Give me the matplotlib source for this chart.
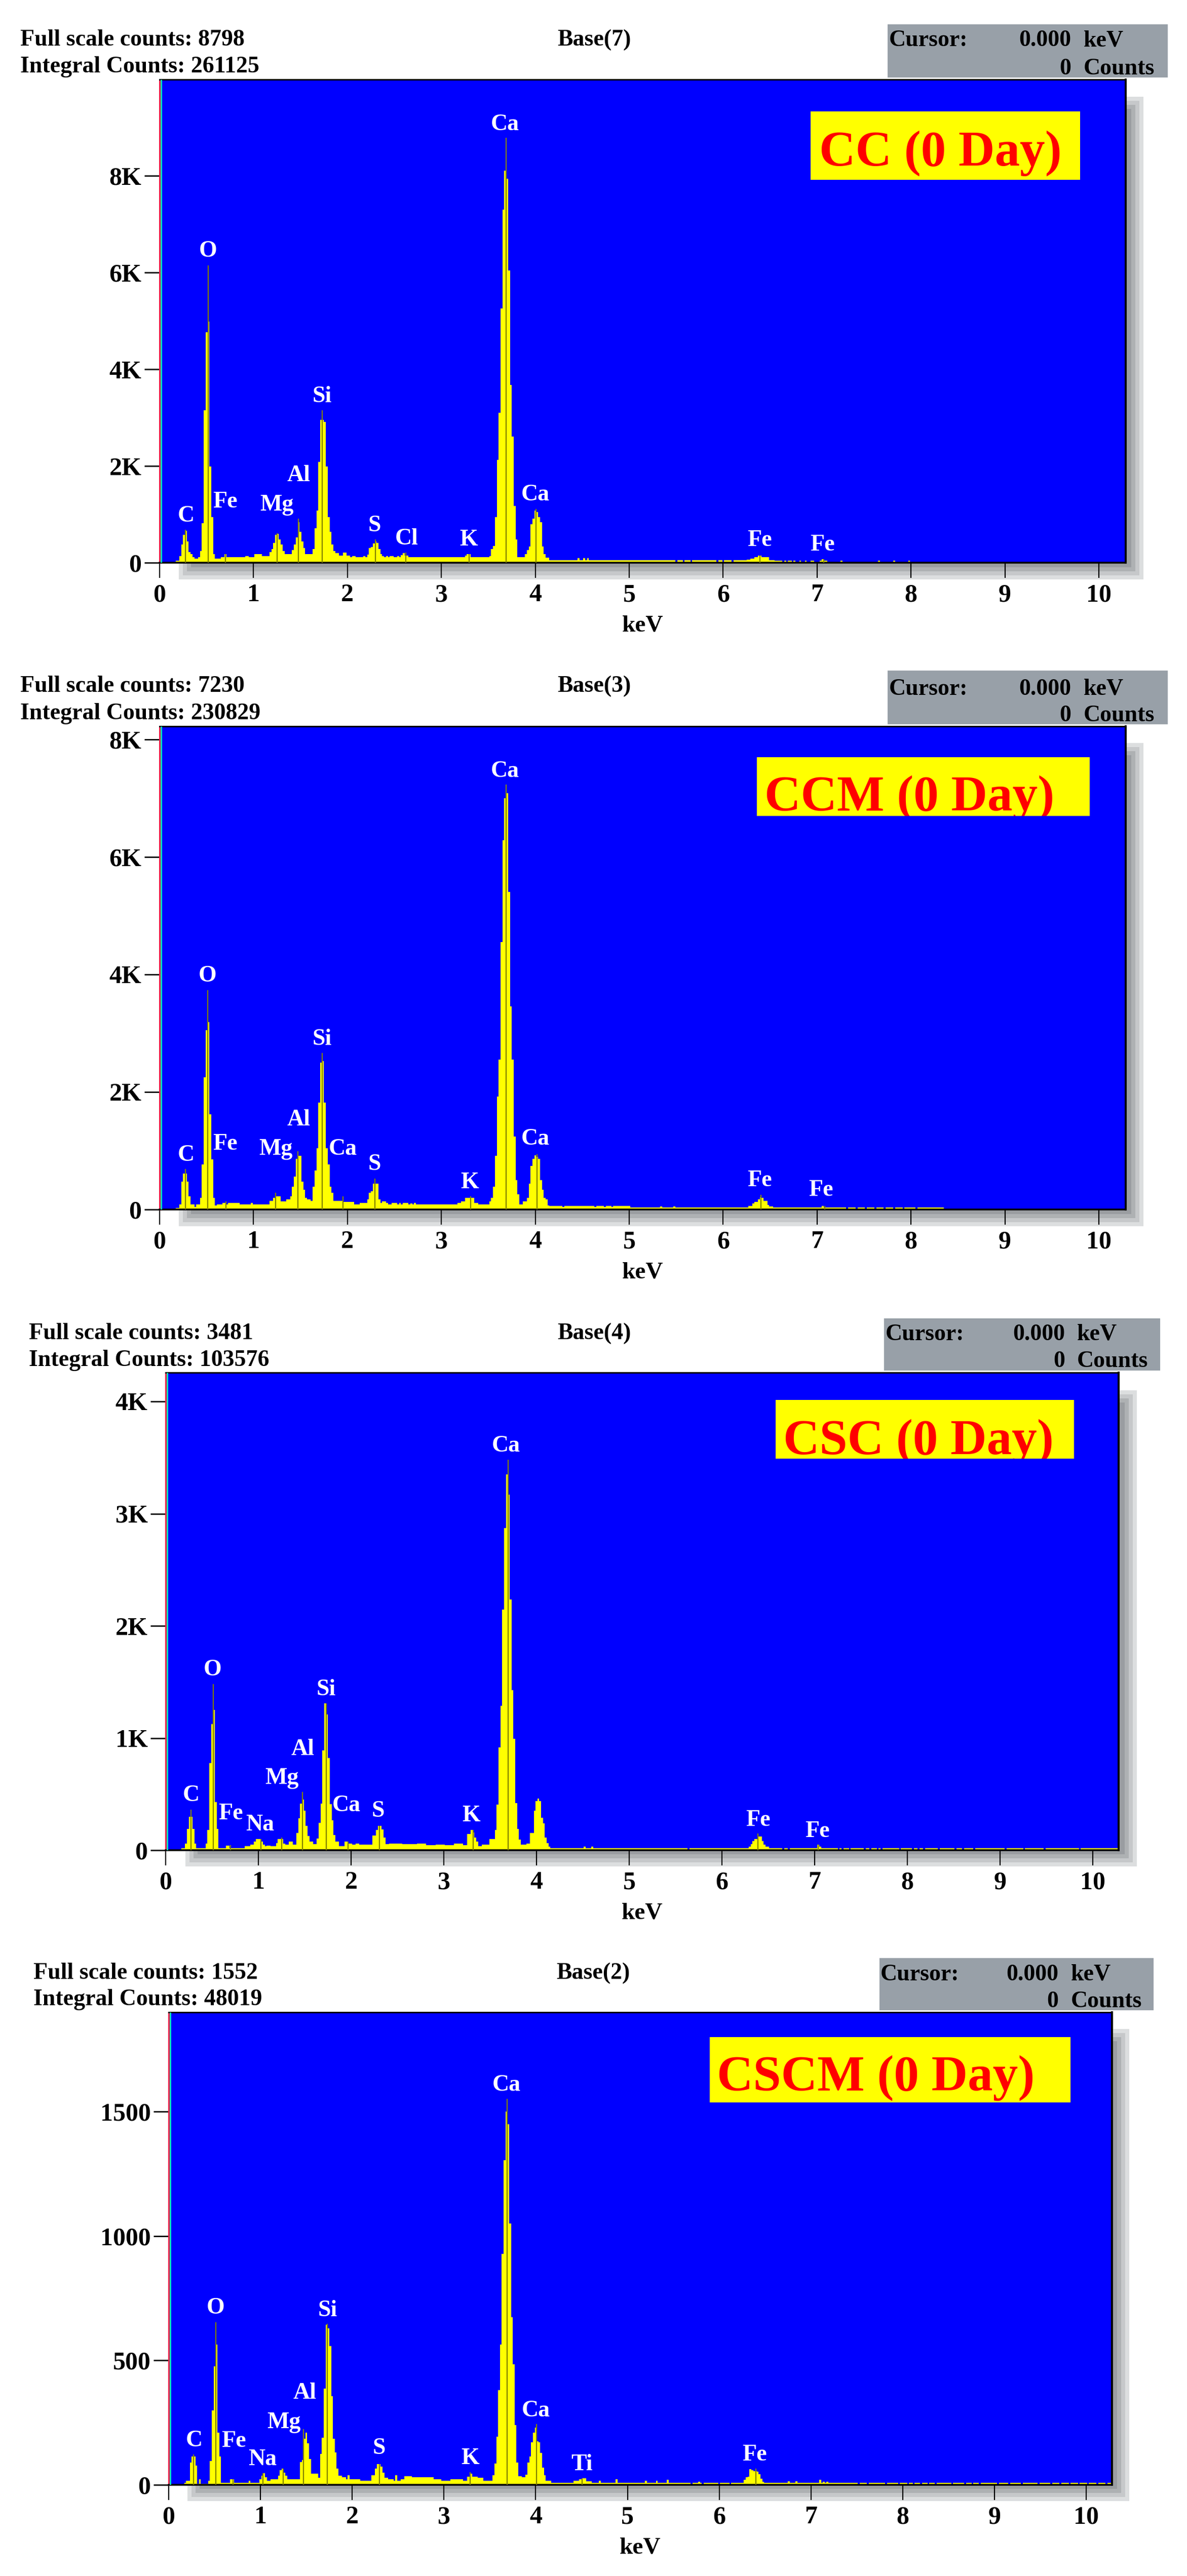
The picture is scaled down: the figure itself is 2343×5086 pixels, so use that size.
#!/usr/bin/env python3
"""EDS spectra, four stacked panels: CC, CCM, CSC, CSCM at 0 day."""

import matplotlib
matplotlib.use("Agg")
import matplotlib.pyplot as plt
from matplotlib.patches import Rectangle

W, H = 2343, 5086
DPI = 100

# spectrum values: left edge of a channel run (keV) and its height (counts)
cc_kev = [
    0.17, 0.21, 0.23, 0.25, 0.27, 0.29, 0.31, 0.33, 0.35, 0.37, 0.41, 0.43, 0.45, 0.47, 0.49, 0.51, 0.53, 0.55, 0.57, 0.59,
    0.65, 0.69, 0.71, 0.91, 0.95, 1.01, 1.09, 1.17, 1.19, 1.21, 1.23, 1.25, 1.27, 1.29, 1.31, 1.33, 1.41, 1.43, 1.45, 1.47,
    1.49, 1.51, 1.53, 1.55, 1.57, 1.63, 1.65, 1.67, 1.69, 1.71, 1.73, 1.75, 1.77, 1.79, 1.81, 1.83, 1.85, 1.87, 1.91, 1.95,
    1.99, 2.03, 2.05, 2.09, 2.17, 2.19, 2.21, 2.23, 2.25, 2.27, 2.29, 2.31, 2.33, 2.35, 2.37, 2.39, 2.41, 2.43, 2.45, 2.49,
    2.53, 2.55, 2.57, 2.59, 2.61, 2.65, 3.25, 3.27, 3.31, 3.51, 3.53, 3.55, 3.57, 3.59, 3.61, 3.63, 3.65, 3.67, 3.69, 3.71,
    3.73, 3.75, 3.77, 3.79, 3.81, 3.89, 3.91, 3.93, 3.95, 3.97, 3.99, 4.01, 4.03, 4.05, 4.07, 4.09, 4.11, 4.15, 4.45, 4.47,
    4.51, 4.53, 4.55, 4.57, 5.49, 5.51, 5.57, 5.59, 5.65, 5.67, 5.93, 5.95, 5.99, 6.01, 6.09, 6.11, 6.25, 6.29, 6.33, 6.37,
    6.41, 6.49, 6.55, 6.63, 6.65, 6.67, 6.69, 6.73, 6.75, 6.77, 6.81, 6.83, 6.87, 6.89, 6.93, 6.97, 7.03, 7.05, 7.07, 7.11,
    7.25, 7.27, 7.65, 7.67, 7.81, 7.83, 7.97, 7.99, 10.3,
]
cc_counts = [
    40, 140, 380, 580, 660, 440, 220, 180, 120, 80, 120, 240, 820, 3150, 4760, 4980, 1990, 940, 180, 80,
    110, 180, 110, 140, 110, 180, 140, 220, 280, 410, 580, 600, 480, 380, 240, 180, 260, 380, 520, 840,
    640, 440, 300, 180, 180, 280, 710, 1080, 2080, 2950, 2950, 2910, 1990, 940, 640, 380, 240, 200, 150, 210,
    150, 110, 140, 110, 140, 110, 170, 300, 320, 400, 440, 410, 280, 180, 140, 110, 140, 110, 140, 110,
    140, 110, 160, 200, 150, 110, 150, 180, 110, 140, 280, 350, 940, 2130, 3100, 5260, 7300, 8100, 7940, 6040,
    3680, 2610, 1170, 480, 120, 180, 260, 340, 800, 910, 1080, 1050, 940, 840, 340, 180, 100, 50, 90, 50,
    90, 50, 90, 50, 0, 50, 0, 50, 0, 50, 0, 50, 0, 50, 0, 50, 60, 85, 118, 147,
    118, 50, 45, 0, 45, 0, 45, 0, 45, 0, 45, 0, 45, 0, 45, 0, 45, 70, 45, 0,
    45, 0, 45, 0, 45, 0, 45, 0, 0,
]
cc_line_kev = [0.275, 0.516, 0.70, 1.25, 1.477, 1.73, 2.296, 2.62, 3.294, 3.687, 4.01, 6.39, 7.07]
cc_line_counts = [680, 6150, 180, 610, 910, 3150, 480, 210, 180, 8790, 1110, 147, 70]
cc_labels = ["Ca", "O", "Si", "Al", "Fe", "Mg", "C", "S", "Cl", "K", "Ca", "Fe", "Fe"]
cc_label_kev = [3.675, 0.515, 1.73, 1.48, 0.70, 1.25, 0.28, 2.29, 2.63, 3.29, 4.0, 6.39, 7.06]
cc_label_counts = [9100, 6480, 3480, 1840, 1300, 1235, 1010, 810, 540, 510, 1445, 505, 410]
cc_ticks = [0, 2000, 4000, 6000, 8000]
cc_ticklabels = ["0", "2K", "4K", "6K", "8K"]

ccm_kev = [
    0.17, 0.21, 0.23, 0.25, 0.27, 0.29, 0.31, 0.33, 0.37, 0.39, 0.43, 0.45, 0.47, 0.49, 0.51, 0.53, 0.55, 0.57, 0.59, 0.61,
    0.67, 0.69, 0.71, 0.73, 0.85, 0.97, 0.99, 1.17, 1.21, 1.23, 1.29, 1.35, 1.39, 1.41, 1.43, 1.45, 1.47, 1.51, 1.53, 1.55,
    1.57, 1.61, 1.63, 1.65, 1.67, 1.69, 1.71, 1.73, 1.75, 1.77, 1.79, 1.81, 1.83, 1.85, 1.95, 1.97, 2.07, 2.13, 2.21, 2.23,
    2.25, 2.27, 2.33, 2.35, 2.37, 2.41, 2.43, 2.47, 2.53, 2.55, 2.57, 2.59, 2.65, 2.67, 2.69, 2.71, 2.73, 3.17, 3.21, 3.25,
    3.35, 3.39, 3.51, 3.53, 3.55, 3.57, 3.59, 3.61, 3.63, 3.65, 3.67, 3.69, 3.71, 3.73, 3.75, 3.77, 3.79, 3.81, 3.83, 3.87,
    3.91, 3.93, 3.95, 3.97, 3.99, 4.01, 4.03, 4.05, 4.07, 4.09, 4.11, 4.13, 4.15, 4.29, 4.31, 4.63, 4.65, 4.73, 4.75, 4.81,
    4.83, 5.01, 5.33, 5.35, 5.47, 5.49, 6.27, 6.31, 6.33, 6.37, 6.39, 6.41, 6.43, 6.47, 6.49, 6.53, 7.05, 7.07, 7.31, 7.33,
    7.41, 7.43, 7.51, 7.53, 7.61, 7.63, 7.71, 7.73, 7.81, 7.83, 7.91, 7.93, 8.05, 8.07, 8.35, 10.3,
]
ccm_counts = [
    25, 90, 470, 615, 615, 470, 225, 90, 40, 90, 200, 770, 2250, 3050, 3190, 1620, 850, 200, 70, 90,
    110, 110, 90, 110, 90, 115, 90, 150, 200, 225, 140, 170, 225, 385, 560, 860, 915, 470, 340, 200,
    170, 150, 385, 660, 1046, 1820, 2500, 2525, 1820, 1046, 770, 385, 285, 150, 125, 125, 90, 110, 170, 285,
    310, 440, 170, 110, 140, 110, 90, 110, 90, 110, 90, 110, 90, 100, 90, 110, 90, 110, 140, 200,
    110, 90, 140, 200, 385, 910, 1920, 2555, 4550, 6286, 7000, 7090, 5407, 3456, 2555, 1240, 500, 255, 90, 140,
    200, 440, 745, 860, 920, 900, 860, 500, 340, 200, 170, 70, 60, 40, 60, 40, 60, 40, 60, 40,
    60, 35, 50, 35, 50, 35, 60, 100, 130, 170, 210, 200, 150, 80, 50, 35, 60, 35, 0, 35,
    0, 35, 0, 35, 0, 35, 0, 35, 0, 35, 0, 35, 0, 35, 0, 0,
]
ccm_line_kev = [0.273, 0.51, 0.705, 1.235, 1.473, 1.73, 1.955, 2.295, 3.31, 3.69, 4.02, 6.40, 7.08]
ccm_line_counts = [690, 3730, 140, 285, 990, 2660, 220, 530, 220, 7230, 940, 250, 60]
ccm_labels = ["Ca", "O", "Si", "Al", "Fe", "Mg", "Ca", "C", "S", "Ca", "K", "Fe", "Fe"]
ccm_label_kev = [3.68, 0.51, 1.73, 1.48, 0.70, 1.24, 1.95, 0.28, 2.29, 4.0, 3.30, 6.39, 7.04]
ccm_label_counts = [7490, 4010, 2930, 1565, 1145, 1065, 1065, 960, 800, 1230, 495, 530, 360]
ccm_ticks = [0, 2000, 4000, 6000, 8000]
ccm_ticklabels = ["0", "2K", "4K", "6K", "8K"]

csc_kev = [
    0.17, 0.21, 0.23, 0.25, 0.27, 0.29, 0.31, 0.33, 0.43, 0.45, 0.47, 0.49, 0.51, 0.53, 0.55, 0.57, 0.65, 0.69, 0.71, 0.85,
    0.91, 0.95, 0.97, 0.99, 1.01, 1.03, 1.05, 1.07, 1.09, 1.13, 1.19, 1.21, 1.23, 1.25, 1.27, 1.29, 1.33, 1.37, 1.41,
    1.43, 1.45, 1.47, 1.49, 1.51, 1.53, 1.55, 1.59, 1.63, 1.65, 1.67, 1.69, 1.71, 1.73, 1.75, 1.77, 1.79, 1.81, 1.83, 1.87,
    1.93, 1.97, 2.01, 2.05, 2.09, 2.23, 2.27, 2.29, 2.33, 2.35, 2.37, 2.41, 2.55, 2.71, 2.81, 2.91, 3.01, 3.11, 3.21,
    3.25, 3.29, 3.31, 3.33, 3.35, 3.37, 3.41, 3.49, 3.55, 3.57, 3.59, 3.61, 3.63, 3.65, 3.67, 3.69, 3.71, 3.73, 3.75, 3.77,
    3.79, 3.81, 3.83, 3.89, 3.93, 3.97, 3.99, 4.01, 4.03, 4.05, 4.07, 4.09, 4.11, 4.13, 4.15, 4.51, 4.53, 4.59, 4.61,
    5.63, 5.65, 6.29, 6.31, 6.33, 6.35, 6.39, 6.41, 6.43, 6.45, 6.47, 6.51, 6.65, 6.67, 6.71, 6.73, 7.01, 7.03, 7.05,
    7.07, 7.25, 7.27, 7.29, 7.31, 7.37, 7.39, 7.53, 7.55, 7.59, 7.61, 7.67, 7.69, 7.71, 7.73, 7.91, 7.93, 8.05, 8.07, 8.11,
    8.13, 8.17, 8.19, 8.33, 8.35, 8.51, 8.53, 8.59, 8.61, 8.71, 8.73, 9.05, 9.07, 9.25, 9.27, 9.47, 9.49, 9.85, 9.87, 10.3,
]
csc_counts = [
    16, 60, 190, 300, 300, 190, 60, 20, 60, 180, 775, 1125, 1250, 430, 190, 20, 40, 20, 20, 35,
    50, 75, 100, 100, 100, 75, 50, 35, 40, 35, 65, 100, 100, 100, 60, 50, 75, 50, 155,
    285, 415, 450, 350, 215, 125, 75, 55, 105, 245, 415, 890, 1310, 1210, 820, 410, 265, 135, 75, 35,
    75, 60, 50, 60, 50, 130, 180, 215, 185, 115, 55, 60, 55, 60, 45, 50, 45, 60, 45,
    145, 180, 160, 115, 75, 35, 50, 100, 180, 405, 915, 1285, 2145, 2870, 3350, 3170, 2235, 1425, 993, 420,
    190, 95, 50, 60, 155, 350, 440, 460, 440, 290, 240, 115, 65, 30, 20, 30, 20, 30, 20,
    0, 20, 30, 55, 80, 100, 120, 120, 80, 50, 30, 20, 0, 20, 0, 20, 20, 50, 30,
    20, 0, 20, 0, 20, 0, 20, 0, 20, 0, 20, 0, 20, 0, 20, 0, 20, 0, 20, 0,
    20, 0, 20, 0, 20, 0, 20, 0, 20, 0, 20, 0, 20, 0, 20, 0, 20, 0, 20, 0,
]
csc_line_kev = [0.273, 0.515, 0.70, 1.027, 1.254, 1.477, 1.73, 1.965, 2.304, 3.315, 3.696, 6.39, 7.04]
csc_line_counts = [362, 1480, 45, 100, 115, 520, 1310, 75, 215, 180, 3481, 150, 50]
csc_labels = ["Ca", "O", "Si", "Al", "Mg", "C", "Ca", "Fe", "S", "Na", "K", "Fe", "Fe"]
csc_label_kev = [3.67, 0.505, 1.73, 1.476, 1.256, 0.277, 1.95, 0.70, 2.29, 1.02, 3.295, 6.39, 7.03]
csc_label_counts = [3620, 1625, 1450, 915, 660, 508, 418, 345, 365, 245, 328, 285, 184]
csc_ticks = [0, 1000, 2000, 3000, 4000]
csc_ticklabels = ["0", "1K", "2K", "3K", "4K"]

cscm_kev = [
    0.17, 0.19, 0.23, 0.25, 0.27, 0.29, 0.31, 0.33, 0.35, 0.43, 0.45, 0.47, 0.49, 0.51, 0.53, 0.55, 0.57, 0.67, 0.71, 0.87,
    0.89, 0.99, 1.01, 1.03, 1.05, 1.07, 1.11, 1.19, 1.21, 1.23, 1.25, 1.27, 1.29, 1.31, 1.41, 1.43, 1.45, 1.47, 1.49, 1.51,
    1.53, 1.55, 1.63, 1.65, 1.67, 1.69, 1.71, 1.73, 1.75, 1.77, 1.79, 1.81, 1.83, 1.85, 1.89, 1.93, 1.95, 1.97, 2.01, 2.09,
    2.21, 2.25, 2.27, 2.29, 2.31, 2.33, 2.35, 2.39, 2.45, 2.47, 2.49, 2.53, 2.57, 2.63, 2.65, 2.89, 2.97, 3.07, 3.21, 3.25,
    3.29, 3.31, 3.37, 3.43, 3.53, 3.55, 3.57, 3.59, 3.61, 3.63, 3.65, 3.67, 3.69, 3.71, 3.73, 3.75, 3.77, 3.79, 3.81, 3.85,
    3.89, 3.91, 3.93, 3.95, 3.97, 3.99, 4.01, 4.03, 4.05, 4.07, 4.09, 4.11, 4.17, 4.41, 4.47, 4.51, 4.55, 4.61, 4.69, 4.71,
    4.87, 4.89, 5.19, 5.21, 5.31, 5.33, 5.43, 5.45, 5.69, 5.71, 5.77, 5.79, 5.81, 5.83, 5.99, 6.01, 6.11, 6.13, 6.27, 6.29,
    6.31, 6.33, 6.35, 6.37, 6.41, 6.43, 6.45, 6.47, 6.49, 6.51, 6.75, 6.77, 6.83, 6.85, 7.09, 7.11, 7.13, 7.15, 7.17, 7.19,
    7.51, 7.53, 7.61, 7.63, 7.81, 7.83, 7.95, 7.97, 8.05, 8.07, 8.11, 8.13, 8.19, 8.21, 8.27, 8.29, 8.35, 8.37, 8.53, 8.55,
    8.67, 8.69, 8.75, 8.77, 8.83, 8.85, 9.03, 9.05, 9.15, 9.17, 9.29, 9.31, 9.47, 9.49, 9.61, 9.63, 9.71, 9.73, 9.81, 9.83,
    9.91, 9.93, 10.01, 10.03, 10.11, 10.13, 10.21, 10.23, 10.3,
]
cscm_counts = [
    8, 16, 90, 115, 115, 78, 5, 22, 5, 16, 96, 300, 476, 563, 210, 115, 9, 22, 9, 16,
    9, 22, 36, 46, 30, 16, 22, 36, 60, 65, 49, 36, 22, 22, 22, 92, 99, 186, 210, 167,
    103, 45, 28, 124, 190, 387, 644, 630, 558, 356, 186, 130, 65, 36, 30, 22, 39, 22, 22, 16,
    39, 66, 84, 84, 74, 49, 28, 22, 16, 39, 16, 22, 34, 34, 30, 22, 16, 22, 16, 32,
    45, 32, 28, 16, 39, 85, 193, 381, 564, 928, 1305, 1500, 1450, 1051, 673, 484, 240, 90, 35, 30,
    40, 90, 115, 170, 210, 230, 175, 170, 128, 70, 39, 16, 9, 16, 22, 26, 14, 9, 16, 9,
    22, 9, 16, 9, 16, 9, 20, 9, 0, 9, 13, 9, 0, 9, 0, 9, 0, 9, 20, 30,
    33, 63, 60, 55, 52, 42, 25, 12, 8, 9, 14, 9, 14, 9, 20, 9, 13, 9, 13, 9,
    0, 9, 0, 9, 0, 9, 0, 9, 0, 9, 0, 9, 0, 9, 0, 9, 0, 9, 0, 9,
    0, 9, 0, 9, 0, 9, 0, 9, 0, 9, 0, 9, 0, 9, 0, 9, 0, 9, 0, 9,
    0, 9, 0, 9, 0, 9, 0, 9, 0,
]
cscm_line_kev = [0.27, 0.512, 0.70, 1.027, 1.248, 1.47, 1.73, 2.295, 3.287, 3.686, 4.008, 4.504, 6.40]
cscm_line_counts = [122, 653, 22, 46, 65, 223, 648, 84, 51, 1552, 245, 26, 65]
cscm_labels = ["Ca", "O", "Si", "Al", "Mg", "C", "Fe", "Na", "S", "Ca", "K", "Ti", "Fe"]
cscm_label_kev = [3.68, 0.51, 1.73, 1.485, 1.254, 0.28, 0.71, 1.02, 2.294, 4.0, 3.284, 4.505, 6.386]
cscm_label_counts = [1614, 718, 709, 376, 259, 186, 184, 110, 156, 305, 115, 90, 128]
cscm_ticks = [0, 500, 1000, 1500]
cscm_ticklabels = ["0", "500", "1000", "1500"]

x_ticks = list(range(11))

PANELS = [
    dict(kev=cc_kev, counts=cc_counts, line_kev=cc_line_kev, line_counts=cc_line_counts,
         labels=cc_labels, label_kev=cc_label_kev, label_counts=cc_label_counts,
         yticks=cc_ticks, yticklabels=cc_ticklabels,
         left=315, right=2222, top=157, base=1111, x10=2169, y_unit=(2000, 191),
         shadow=(353, 191, 2257, 1144),
         tag="CC (0 Day)", tag_box=(1600, 220, 2132, 355), tag_xy=(1617, 327),
         head=["Full scale counts: 8798", "Integral Counts: 261125"], base_tag="Base(7)",
         head_x=40, head_y=(90, 143), base_x=1173,
         cur_box=(1752, 48, 2305, 153), cur_x=(1755, 2114, 2139), cur_y=(91, 147)),
    dict(kev=ccm_kev, counts=ccm_counts, line_kev=ccm_line_kev, line_counts=ccm_line_counts,
         labels=ccm_labels, label_kev=ccm_label_kev, label_counts=ccm_label_counts,
         yticks=ccm_ticks, yticklabels=ccm_ticklabels,
         left=315, right=2222, top=1434, base=2388, x10=2169, y_unit=(2000, 232),
         shadow=(353, 1467, 2257, 2421),
         tag="CCM (0 Day)", tag_box=(1494, 1495, 2151, 1611), tag_xy=(1509, 1600),
         head=["Full scale counts: 7230", "Integral Counts: 230829"], base_tag="Base(3)",
         head_x=40, head_y=(1366, 1420), base_x=1173,
         cur_box=(1752, 1324, 2305, 1430), cur_x=(1755, 2114, 2139), cur_y=(1372, 1424)),
    dict(kev=csc_kev, counts=csc_counts, line_kev=csc_line_kev, line_counts=csc_line_counts,
         labels=csc_labels, label_kev=csc_label_kev, label_counts=csc_label_counts,
         yticks=csc_ticks, yticklabels=csc_ticklabels,
         left=327, right=2208, top=2710, base=3653, x10=2157, y_unit=(1000, 221.5),
         shadow=(366, 2745, 2244, 3685),
         tag="CSC (0 Day)", tag_box=(1531, 2764, 2120, 2880), tag_xy=(1546, 2871),
         head=["Full scale counts: 3481", "Integral Counts: 103576"], base_tag="Base(4)",
         head_x=57, head_y=(2644, 2697), base_x=1173,
         cur_box=(1745, 2603, 2290, 2706), cur_x=(1748, 2102, 2126), cur_y=(2646, 2699)),
    dict(kev=cscm_kev, counts=cscm_counts, line_kev=cscm_line_kev, line_counts=cscm_line_counts,
         labels=cscm_labels, label_kev=cscm_label_kev, label_counts=cscm_label_counts,
         yticks=cscm_ticks, yticklabels=cscm_ticklabels,
         left=333, right=2195, top=3973, base=4906, x10=2144, y_unit=(500, 245.6),
         shadow=(370, 4006, 2229, 4938),
         tag="CSCM (0 Day)", tag_box=(1401, 4022, 2113, 4151), tag_xy=(1415, 4127),
         head=["Full scale counts: 1552", "Integral Counts: 48019"], base_tag="Base(2)",
         head_x=66, head_y=(3907, 3959), base_x=1171,
         cur_box=(1736, 3866, 2277, 3969), cur_x=(1738, 2089, 2114), cur_y=(3910, 3963)),
]

SHADOW_STEPS = ["#dcdedf", "#c6c8ca", "#aeb1b3", "#9a9da1"]
HEAD_SIZE = 33


def fx(x):
    return x / W


def fy(y):
    return 1 - y / H


def pt(px):
    return px * 72 / DPI


def add_rect(fig, box, color, zorder):
    x0, y0, x1, y1 = box
    rect = Rectangle((fx(x0), fy(y1)), (x1 - x0) / W, (y1 - y0) / H,
                     transform=fig.transFigure, facecolor=color, edgecolor="none", zorder=zorder)
    fig.add_artist(rect)
    return rect


def draw_panel(fig, p):
    # soft drop shadow behind the plot
    sx0, sy0, sx1, sy1 = p["shadow"]
    for i, c in enumerate(SHADOW_STEPS):
        add_rect(fig, (sx0 + i * 8, sy0 + i * 8, sx1 - i * 8, sy1 - i * 8), c, -5 + i)

    ax = fig.add_axes([fx(p["left"]), fy(p["base"]), (p["right"] - p["left"]) / W, (p["base"] - p["top"]) / H])
    ax.set_facecolor("#0000ff")
    px_per_kev = (p["x10"] - p["left"]) / 10
    count_unit, px_per_unit = p["y_unit"]
    ax.set_xlim(0, (p["right"] - p["left"]) / px_per_kev)
    ax.set_ylim(0, (p["base"] - p["top"]) / px_per_unit * count_unit)

    ax.fill_between(p["kev"], p["counts"], 0, step="post", color="#ffff00", linewidth=0, zorder=2)
    ax.vlines(p["line_kev"], 0, p["line_counts"], color="#808000", linewidth=pt(2.2), zorder=3)

    for name, kev, count in zip(p["labels"], p["label_kev"], p["label_counts"]):
        ax.annotate(name, (kev, count), xytext=(0, -3), textcoords="offset points", color="white",
                    fontsize=33, fontweight="bold", ha="center", va="center", zorder=4)

    ax.set_xticks(x_ticks)
    ax.set_yticks(p["yticks"])
    ax.set_yticklabels(p["yticklabels"])
    ax.tick_params(axis="x", length=pt(30), width=pt(2.2), labelsize=36, pad=8)
    ax.tick_params(axis="y", length=pt(30), width=pt(2.7), labelsize=36, pad=4)
    for lab in ax.get_xticklabels() + ax.get_yticklabels():
        lab.set_fontweight("bold")
    ax.set_xlabel("keV", fontsize=34, fontweight="bold", labelpad=12)

    for side, lw in (("top", 3), ("bottom", 3.5), ("right", 4)):
        ax.spines[side].set_linewidth(pt(lw))
        ax.spines[side].set_color("black")
    ax.spines["left"].set_color("#e8204a")
    ax.spines["left"].set_linewidth(pt(3))
    ax.plot([0.0018, 0.0018], [0, 1], transform=ax.transAxes, color="#00e0c0", linewidth=pt(3),
            solid_capstyle="butt", zorder=5)

    # text box with the sample name; CCM and CSC lose their descenders to the box edge
    box = add_rect(fig, p["tag_box"], "#ffff00", 5)
    t = fig.text(fx(p["tag_xy"][0]), fy(p["tag_xy"][1]), p["tag"], color="#ff0000", fontsize=pt(99),
                 fontweight="bold", ha="left", va="baseline", zorder=6)
    t.set_clip_path(box)

    # header strip above the plot
    for line, y in zip(p["head"], p["head_y"]):
        fig.text(fx(p["head_x"]), fy(y), line, fontsize=HEAD_SIZE, fontweight="bold", va="baseline")
    fig.text(fx(p["base_x"]), fy(p["head_y"][0]), p["base_tag"], fontsize=HEAD_SIZE, fontweight="bold",
             ha="center", va="baseline")

    add_rect(fig, p["cur_box"], "#98a0a8", 2)
    c_left, c_num, c_unit = p["cur_x"]
    y0, y1 = p["cur_y"]
    fig.text(fx(c_left), fy(y0), "Cursor:", fontsize=HEAD_SIZE, fontweight="bold", va="baseline")
    fig.text(fx(c_num), fy(y0), "0.000", fontsize=HEAD_SIZE, fontweight="bold", ha="right", va="baseline")
    fig.text(fx(c_unit), fy(y0), "keV", fontsize=HEAD_SIZE, fontweight="bold", va="baseline")
    fig.text(fx(c_num), fy(y1), "0", fontsize=HEAD_SIZE, fontweight="bold", ha="right", va="baseline")
    fig.text(fx(c_unit), fy(y1), "Counts", fontsize=HEAD_SIZE, fontweight="bold", va="baseline")


def main():
    plt.rcParams["font.family"] = ["Liberation Serif", "DejaVu Serif"]
    fig = plt.figure(figsize=(W / DPI, H / DPI), dpi=DPI, facecolor="white")
    for p in PANELS:
        draw_panel(fig, p)
    fig.savefig("out.png", dpi=DPI)
    plt.close(fig)


if __name__ == "__main__":
    main()
